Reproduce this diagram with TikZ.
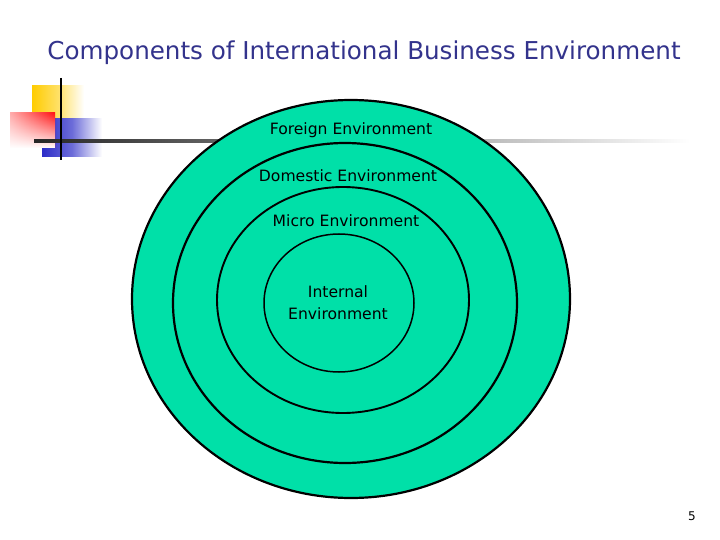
\documentclass[tikz,border=0pt]{standalone}
\usepackage{fontspec}
\setmainfont{DejaVu Sans}
\usetikzlibrary{fadings}
\definecolor{ringgreen}{RGB}{0,224,168}
\definecolor{titleblue}{RGB}{51,51,140}
\definecolor{decoyellow}{RGB}{255,204,0}
\definecolor{decored}{RGB}{255,20,20}
\definecolor{decoblue}{RGB}{45,45,200}
\tikzset{
  ring/.style={fill=ringgreen,draw=black,line width=2.2pt},
  ringlabel/.style={font=\fontsize{15.6}{22}\selectfont,align=center,inner sep=0pt}
}
\begin{document}
\begin{tikzpicture}[x=1pt,y=-1pt]
\useasboundingbox (0,0) rectangle (720,540);
\fill[white] (0,0) rectangle (720,540);

% corner decoration
\shade[left color=decoyellow,right color=white,middle color=decoyellow!60] (32,86) rectangle (84,119);
\shade[left color=decoblue,right color=white,middle color=decoblue!70] (42,119) rectangle (102,157);
\shade[left color=decored!35,right color=decored] (10,113) rectangle (55,148);
\fill[white,path fading=north] (10,113) rectangle (55,148);
\shade[left color=black!85,right color=white] (34,140) rectangle (690,142.5);
\draw[line width=2.4pt] (61,78) -- (61,160);

% rings
\draw[ring] (351,299) ellipse (219 and 199);
\draw[ring] (345,303) ellipse (172 and 160);
\draw[ring,line width=1.9pt] (343,300) ellipse (126 and 113);
\draw[ring,line width=1.5pt] (339,303) ellipse (75 and 69);

\node[ringlabel] (foreign) at (351,130) {Foreign Environment};
\node[ringlabel] (domestic) at (348,176) {Domestic Environment};
\node[ringlabel] (micro) at (346,221) {Micro Environment};
\node[ringlabel] (internal) at (338,303) {Internal\\ Environment};

\node[text=titleblue,font=\fontsize{24.6}{29}\selectfont] (title) at (364,53) {Components of International Business Environment};
\node[font=\fontsize{12}{14}\selectfont] (page) at (692,516) {5};
\end{tikzpicture}
\end{document}
